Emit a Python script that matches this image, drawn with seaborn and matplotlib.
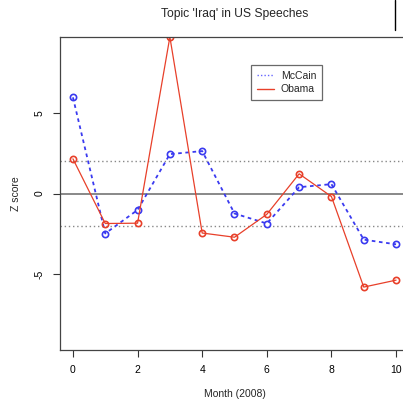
import pandas as pd
import seaborn as sns
import matplotlib.pyplot as plt
from matplotlib.lines import Line2D

months = [0, 1, 2, 3, 4, 5, 6, 7, 8, 9, 10]
mccain = [5.96, -2.48, -1.02, 2.44, 2.63, -1.24, -1.86, 0.39, 0.58, -2.86, -3.15]
obama = [2.15, -1.86, -1.84, 9.7, -2.45, -2.71, -1.29, 1.22, -0.19, -5.80, -5.37]

df = pd.DataFrame({
    "Month": months * 2,
    "Z": mccain + obama,
    "Speaker": ["McCain"] * len(months) + ["Obama"] * len(months),
})

sns.set_style("white")
plt.rcParams["font.family"] = ["Liberation Sans", "DejaVu Sans"]
plt.rcParams["axes.unicode_minus"] = False

fig = plt.figure(figsize=(4.03, 4.01), dpi=100)
ax = fig.add_axes([60 / 403, 1 - 350 / 401, 349 / 403, 313 / 401])

ax.axhline(0, color="#888888", lw=1.4, zorder=1)
ax.axhline(2, color="#888888", lw=1, ls=(0, (1, 2)), zorder=1)
ax.axhline(-2, color="#888888", lw=1, ls=(0, (1, 2)), zorder=1)

blue = "#3a3af0"
red = "#e8402a"
sns.lineplot(data=df[df.Speaker == "McCain"], x="Month", y="Z", ax=ax,
             color=blue, lw=1.3, linestyle=(0, (2, 2)), marker="o",
             markersize=4.5, markerfacecolor="none", markeredgecolor=blue,
             markeredgewidth=1.2, label="McCain", legend=False)
sns.lineplot(data=df[df.Speaker == "Obama"], x="Month", y="Z", ax=ax,
             color=red, lw=0.9, marker="o", markersize=4.5,
             markerfacecolor="none", markeredgecolor=red,
             markeredgewidth=1.2, label="Obama", legend=False)

ax.set_xlim(-0.4, 10.4)
ax.set_ylim(-9.7, 9.7)
ax.set_xticks([0, 2, 4, 6, 8, 10])
ax.set_yticks([-5, 0, 5])
ax.tick_params(axis="both", direction="out", length=5, width=0.8,
               colors="#333333", labelsize=7.5, labelcolor="black",
               left=True, bottom=True, pad=6)
for lab in ax.get_yticklabels():
    lab.set_rotation(90)
    lab.set_va("center")
for s in ax.spines.values():
    s.set_color("#444444")
    s.set_linewidth(0.9)

ax.set_xlabel("Month (2008)", fontsize=7.5, labelpad=10)
ax.set_ylabel("Z score", fontsize=7.5, labelpad=10)
fig.text(235 / 403, 1 - 14 / 401, "Topic 'Iraq' in US Speeches",
         ha="center", va="center", fontsize=8.7)

handles = [Line2D([], [], color="#6666ff", lw=1, ls=(0, (1, 1.5))),
           Line2D([], [], color=red, lw=1)]
leg = ax.legend(handles, ["McCain", "Obama"], loc="upper left",
                bbox_to_anchor=((251 - 60) / 349, 1 - (65 - 37) / 313),
                fontsize=7.5, frameon=True, fancybox=False, shadow=False,
                handlelength=1.7, handletextpad=0.6, borderpad=0.55,
                labelspacing=0.35, borderaxespad=0)
leg.get_frame().set_edgecolor("#444444")
leg.get_frame().set_linewidth(0.9)

fig.add_artist(Line2D([395 / 403, 395 / 403], [1, 1 - 30 / 401],
                      color="black", lw=1))

fig.savefig("out.png", dpi=100)
